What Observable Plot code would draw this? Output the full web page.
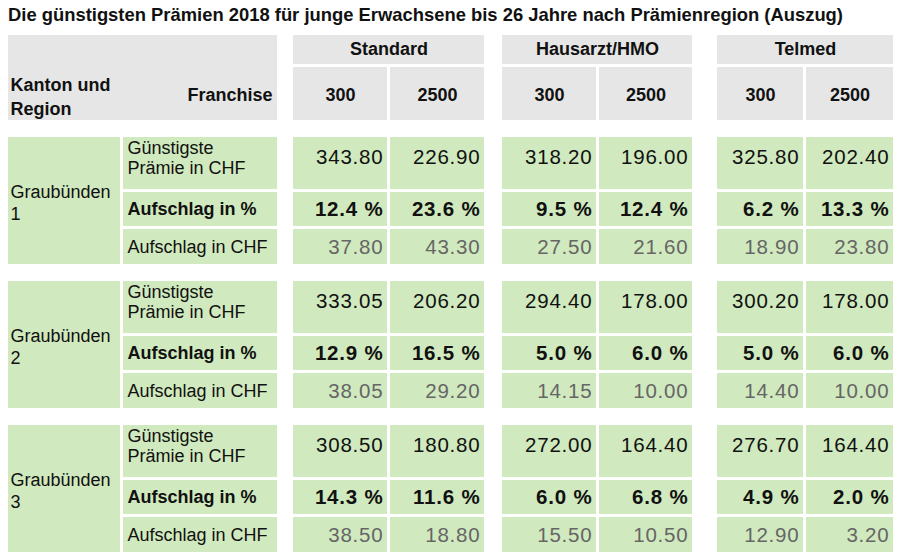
<!DOCTYPE html>
<html><head><meta charset="utf-8">
<script src="https://cdn.jsdelivr.net/npm/d3@7"></script>
<script src="https://cdn.jsdelivr.net/npm/@observablehq/plot@0.6"></script>
<style>
html,body{margin:0;padding:0;background:#fff;}
#title{font-family:"Liberation Sans",Arial,Helvetica,sans-serif;font-weight:bold;font-size:18.4px;line-height:22px;padding:4px 0 0 8px;height:26px;color:#111;white-space:nowrap;}
.num text{letter-spacing:0.8px;}
</style></head><body>
<div id="title">Die günstigsten Prämien 2018 für junge Erwachsene bis 26 Jahre nach Prämienregion (Auszug)</div>
<div id="chart"></div>
<script>
// ---- data ----
const models = ["Standard", "Hausarzt/HMO", "Telmed"];
const franchises = ["300", "2500"];
const regions = ["Graubünden\n1", "Graubünden\n2", "Graubünden\n3"];
const rowLabels = ["Günstigste\nPrämie in CHF", "Aufschlag in %", "Aufschlag in CHF"];
const headerLeft = "Kanton und\nRegion";
const headerFranchise = "Franchise";
// columns: Standard 300, Standard 2500, HMO 300, HMO 2500, Telmed 300, Telmed 2500
const praemie = [
  [343.80, 226.90, 318.20, 196.00, 325.80, 202.40],
  [333.05, 206.20, 294.40, 178.00, 300.20, 178.00],
  [308.50, 180.80, 272.00, 164.40, 276.70, 164.40]
];
const aufschlagPct = [
  [12.4, 23.6, 9.5, 12.4, 6.2, 13.3],
  [12.9, 16.5, 5.0, 6.0, 5.0, 6.0],
  [14.3, 11.6, 6.0, 6.8, 4.9, 2.0]
];
const aufschlagChf = [
  [37.80, 43.30, 27.50, 21.60, 18.90, 23.80],
  [38.05, 29.20, 14.15, 10.00, 14.40, 10.00],
  [38.50, 18.80, 15.50, 10.50, 12.90, 3.20]
];

// ---- layout (table geometry) ----
const FONT = '"Liberation Sans", Arial, Helvetica, sans-serif';
const GREEN = "#d0e9be", GRAY = "#e6e6e6", INK = "#111111", MUTED = "#666666";
const regionCol = [8, 120], labelCol = [123, 277];
const groupStarts = [293, 502, 717];
const groupColW = [[94, 94], [94, 93], [86, 87]];
const innerGap = 3;
const valueCols = [];
groupStarts.forEach((s, g) => {
  const a = [s, s + groupColW[g][0]];
  const b = [a[1] + innerGap, a[1] + innerGap + groupColW[g][1]];
  valueCols.push(a, b);
});
const groupCols = groupStarts.map((s, g) => [valueCols[2 * g][0], valueCols[2 * g + 1][1]]);
const headTop = 35, headMid = 64, subTop = 67, headBottom = 120;
const blockTop0 = 137, blockStep = 144;
const rowH = [52, 34, 35], rowGap = 3;
function rowSpans(b) {
  const t = blockTop0 + b * blockStep;
  const r1 = [t, t + rowH[0]];
  const r2 = [r1[1] + rowGap, r1[1] + rowGap + rowH[1]];
  const r3 = [r2[1] + rowGap, r2[1] + rowGap + rowH[2]];
  return [r1, r2, r3];
}

// ---- cells ----
const grayCells = [];
grayCells.push({x1: regionCol[0], x2: labelCol[1], y1: headTop, y2: headBottom});
groupCols.forEach(c => grayCells.push({x1: c[0], x2: c[1], y1: headTop, y2: headMid}));
valueCols.forEach(c => grayCells.push({x1: c[0], x2: c[1], y1: subTop, y2: headBottom}));

const greenCells = [];
const regionTexts = [], labelTexts = [], valueTexts = [];
const fmt2 = d3.format(".2f");
regions.forEach((r, b) => {
  const rows = rowSpans(b);
  greenCells.push({x1: regionCol[0], x2: regionCol[1], y1: rows[0][0], y2: rows[2][1]});
  regionTexts.push({text: r, x: regionCol[0] + 2, y: rows[0][0] + 64});
  rowLabels.forEach((lab, i) => {
    greenCells.push({x1: labelCol[0], x2: labelCol[1], y1: rows[i][0], y2: rows[i][1]});
    labelTexts.push({text: lab, x: labelCol[0] + 4, y: i === 0 ? rows[0][0] + 20 : (rows[i][0] + rows[i][1]) / 2, row: i});
    valueCols.forEach((c, j) => {
      greenCells.push({x1: c[0], x2: c[1], y1: rows[i][0], y2: rows[i][1]});
      let t;
      if (i === 0) t = fmt2(praemie[b][j]);
      else if (i === 1) t = aufschlagPct[b][j].toFixed(1) + " %";
      else t = fmt2(aufschlagChf[b][j]);
      valueTexts.push({text: t, x: c[1] - 4, y: i === 0 ? rows[0][0] + 19.5 : (rows[i][0] + rows[i][1]) / 2, row: i});
    });
  });
});

const groupHeaders = models.map((m, g) => ({text: m, x: (groupCols[g][0] + groupCols[g][1]) / 2, y: (headTop + headMid) / 2 - 1}));
const franchiseHeaders = valueCols.map((c, j) => ({text: franchises[j % 2], x: (c[0] + c[1]) / 2, y: (subTop + headBottom) / 2 + 1}));

const textOpts = (extra) => Object.assign({x: "x", y: "y", text: "text", fontSize: 18, lineAnchor: "middle", fill: INK}, extra);

const chart = Plot.plot({
  width: 900,
  height: 529,
  margin: 0,
  x: {type: "linear", domain: [0, 900], range: [0, 900], axis: null},
  y: {type: "linear", domain: [30, 559], range: [0, 529], axis: null},
  style: {fontFamily: FONT, background: "#ffffff", overflow: "visible"},
  marks: [
    Plot.rect(grayCells, {x1: "x1", x2: "x2", y1: "y1", y2: "y2", fill: GRAY}),
    Plot.rect(greenCells, {x1: "x1", x2: "x2", y1: "y1", y2: "y2", fill: GREEN}),
    Plot.text(groupHeaders, textOpts({fontWeight: "bold", textAnchor: "middle"})),
    Plot.text(franchiseHeaders, textOpts({fontWeight: "bold", textAnchor: "middle"})),
    Plot.text([{text: headerLeft, x: regionCol[0] + 2, y: 95}], textOpts({fontWeight: "bold", textAnchor: "start", lineHeight: 1.33})),
    Plot.text([{text: headerFranchise, x: labelCol[1] - 5, y: 95}], textOpts({fontWeight: "bold", textAnchor: "end"})),
    Plot.text(regionTexts, textOpts({textAnchor: "start", lineHeight: 1.22})),
    Plot.text(labelTexts.filter(d => d.row !== 1), textOpts({textAnchor: "start", lineHeight: 1.11})),
    Plot.text(labelTexts.filter(d => d.row === 1), textOpts({textAnchor: "start", fontWeight: "bold"})),
    Plot.text(valueTexts.filter(d => d.row === 0), textOpts({textAnchor: "end", fontSize: 20.5, className: "num"})),
    Plot.text(valueTexts.filter(d => d.row === 1), textOpts({textAnchor: "end", fontSize: 20.5, fontWeight: "bold", className: "num"})),
    Plot.text(valueTexts.filter(d => d.row === 2), textOpts({textAnchor: "end", fontSize: 20.5, fill: MUTED, className: "num"}))
  ]
});
document.getElementById("chart").appendChild(chart);
</script>
</body></html>
